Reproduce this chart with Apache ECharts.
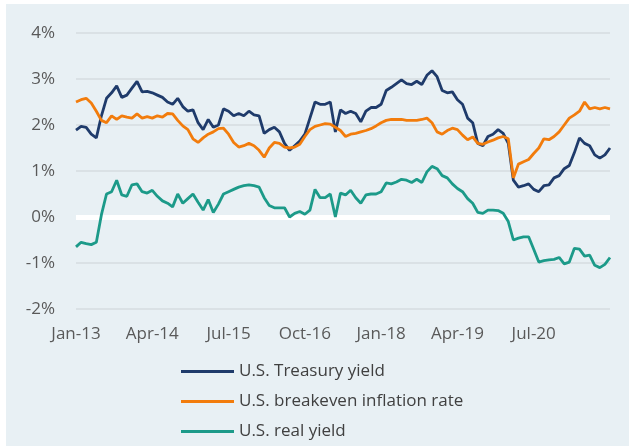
<!DOCTYPE html>
<html>
<head>
<meta charset="utf-8">
<script src="https://cdn.jsdelivr.net/npm/echarts@6/dist/echarts.min.js"></script>
<style>
  html, body { margin: 0; padding: 0; background: #fff; }
  #chart { width: 629px; height: 446px; }
</style>
</head>
<body>
<div id="chart"></div>
<script>
// monthly values, Jan-13 .. Oct-21
const monthNames = ['Jan', 'Feb', 'Mar', 'Apr', 'May', 'Jun', 'Jul', 'Aug', 'Sep', 'Oct', 'Nov', 'Dec'];
const startYear = 2013;
const monthCount = 106;

const treasuryYield = [
  1.89, 1.97, 1.95, 1.80, 1.72, 2.20, 2.58, 2.70, 2.85, 2.60, 2.65, 2.80,
  2.95, 2.72, 2.73, 2.70, 2.65, 2.60, 2.50, 2.45, 2.58, 2.40, 2.30, 2.33,
  2.05, 1.90, 2.12, 1.95, 2.00, 2.35, 2.30, 2.20, 2.25, 2.20, 2.30, 2.22,
  2.20, 1.82, 1.90, 1.95, 1.85, 1.60, 1.45, 1.55, 1.65, 1.80, 2.15, 2.50,
  2.45, 2.45, 2.50, 1.85, 2.33, 2.25, 2.30, 2.25, 2.07, 2.30, 2.38, 2.38,
  2.45, 2.75, 2.82, 2.90, 2.98, 2.90, 2.88, 2.95, 2.88, 3.08, 3.18, 3.05,
  2.75, 2.70, 2.72, 2.55, 2.45, 2.15, 2.05, 1.60, 1.55, 1.75, 1.80, 1.90,
  1.82, 1.60, 0.80, 0.65, 0.68, 0.72, 0.60, 0.55, 0.68, 0.70, 0.85, 0.90,
  1.05, 1.12, 1.40, 1.72, 1.60, 1.55, 1.35, 1.28, 1.35, 1.50
];

const breakevenRate = [
  2.50, 2.55, 2.58, 2.48, 2.30, 2.10, 2.05, 2.20, 2.12, 2.20, 2.17, 2.15,
  2.24, 2.15, 2.18, 2.15, 2.20, 2.17, 2.25, 2.24, 2.10, 1.98, 1.90, 1.70,
  1.62, 1.72, 1.80, 1.85, 1.92, 1.93, 1.80, 1.62, 1.52, 1.55, 1.60, 1.55,
  1.45, 1.30, 1.50, 1.62, 1.60, 1.52, 1.50, 1.52, 1.58, 1.75, 1.90, 1.97,
  2.00, 2.03, 2.02, 1.95, 1.88, 1.75, 1.80, 1.82, 1.85, 1.88, 1.92, 1.98,
  2.05, 2.10, 2.12, 2.12, 2.12, 2.10, 2.10, 2.10, 2.12, 2.15, 2.05, 1.85,
  1.80, 1.88, 1.93, 1.90, 1.78, 1.68, 1.74, 1.60, 1.58, 1.63, 1.67, 1.72,
  1.75, 1.70, 0.85, 1.15, 1.20, 1.25, 1.38, 1.50, 1.70, 1.68, 1.75, 1.85,
  2.00, 2.15, 2.22, 2.30, 2.50, 2.35, 2.38, 2.35, 2.38, 2.35
];

const realYield = [
  -0.65, -0.55, -0.58, -0.60, -0.55, 0.05, 0.50, 0.55, 0.80, 0.48, 0.45, 0.70,
  0.72, 0.55, 0.52, 0.58, 0.45, 0.35, 0.30, 0.22, 0.50, 0.30, 0.40, 0.50,
  0.32, 0.15, 0.38, 0.10, 0.28, 0.50, 0.55, 0.60, 0.65, 0.68, 0.70, 0.68,
  0.65, 0.42, 0.25, 0.20, 0.20, 0.20, 0.00, 0.08, 0.12, 0.06, 0.15, 0.60,
  0.42, 0.42, 0.50, 0.00, 0.52, 0.48, 0.58, 0.42, 0.30, 0.48, 0.50, 0.50,
  0.55, 0.74, 0.72, 0.76, 0.82, 0.80, 0.75, 0.82, 0.75, 0.98, 1.10, 1.05,
  0.90, 0.85, 0.72, 0.62, 0.55, 0.40, 0.30, 0.10, 0.08, 0.15, 0.15, 0.14,
  0.08, -0.10, -0.50, -0.46, -0.43, -0.43, -0.70, -0.98, -0.95, -0.93, -0.92, -0.88,
  -1.02, -0.98, -0.68, -0.70, -0.85, -0.83, -1.05, -1.10, -1.03, -0.88
];

const seriesNames = ['U.S. Treasury yield', 'U.S. breakeven inflation rate', 'U.S. real yield'];
const seriesColors = ['#1F3B6B', '#F27C0C', '#1C9A89'];
const seriesData = [treasuryYield, breakevenRate, realYield];

const months = [];
for (let i = 0; i < monthCount; i++) {
  const y = startYear + Math.floor(i / 12);
  months.push(monthNames[i % 12] + '-' + String(y).slice(2));
}

const chart = echarts.init(document.getElementById('chart'));
const font = 'Open Sans';

chart.setOption({
  animation: false,
  graphic: [{
    type: 'rect',
    z: -10,
    shape: { x: 6, y: 4, width: 629, height: 446 },
    style: { fill: '#E8F0F4' }
  }],
  grid: { left: 76, right: 19, top: 33, bottom: 137 },
  legend: {
    data: seriesNames,
    orient: 'vertical',
    left: 176,
    top: 358,
    itemWidth: 53,
    itemHeight: 3,
    itemGap: 13,
    icon: 'rect',
    textStyle: { fontFamily: font, fontSize: 17, color: '#404040' }
  },
  xAxis: {
    type: 'category',
    data: months,
    boundaryGap: false,
    axisLine: { show: false },
    axisTick: { show: false },
    axisLabel: {
      interval: (index) => index % 15 === 0 && index <= 90,
      margin: 17,
      fontFamily: font,
      fontSize: 17,
      color: '#595959'
    },
    splitLine: { show: false }
  },
  yAxis: [
    {
      type: 'value',
      min: -2,
      max: 4,
      interval: 1,
      axisLine: { show: false },
      axisTick: { show: false },
      axisLabel: {
        margin: 21,
        fontFamily: font,
        fontSize: 17,
        color: '#595959',
        formatter: v => v + '%'
      },
      splitLine: { lineStyle: { color: '#D6DCE0', width: 1.5 } }
    },
    {
      // only used to draw the white zero line beneath the series
      type: 'value',
      position: 'left',
      min: -2,
      max: 4,
      interval: 2,
      axisLine: { show: false },
      axisTick: { show: false },
      axisLabel: { show: false },
      splitLine: {
        lineStyle: { color: ['rgba(0,0,0,0)', '#ffffff', 'rgba(0,0,0,0)', 'rgba(0,0,0,0)'], width: 5 }
      }
    }
  ],
  series: seriesNames.map((name, i) => ({
    name: name,
    type: 'line',
    data: seriesData[i],
    symbol: 'none',
    lineStyle: { color: seriesColors[i], width: 2.8 },
    itemStyle: { color: seriesColors[i] }
  }))
});
</script>
</body>
</html>
